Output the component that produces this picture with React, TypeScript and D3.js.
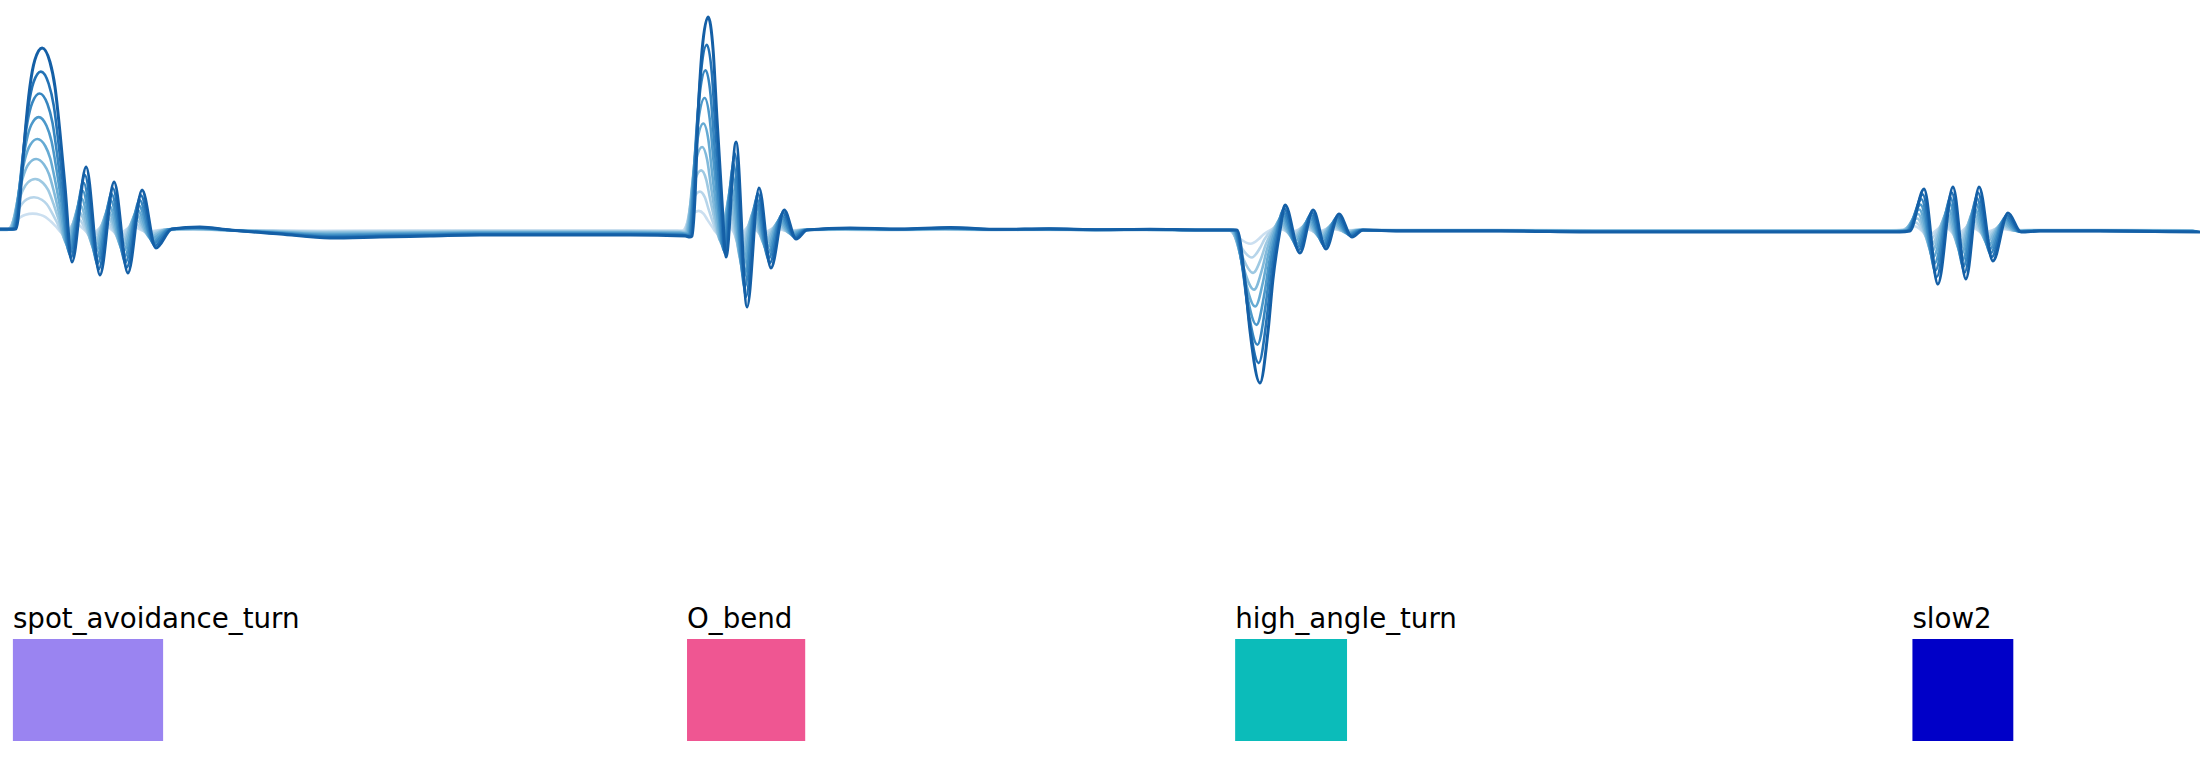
import React from 'react';
import * as d3 from 'd3';

// tail tip trace (frame, angle in degrees)
const tipFrames = [
  // spot_avoidance_turn
  0, 4.8, 5.1, 5.7, 7.0, 8.0, 9.5, 11.1, 13.4, 15.9, 17.5, 19.1, 20.7, 22.9, 27.4, 31.8, 36.3,
  40.7, 45.2, 49.6, 54.7, 63.6, 73.2, 89.1, 105.0, 120.9, 136.8, 152.7, 168.6, 184.5, 200.5,
  218.0, 219.5,
  // O_bend
  220.2, 221.1, 222.1, 223.4, 225.3, 226.9, 228.1, 229.7, 231.0, 234.2, 237.7, 241.5, 245.3,
  249.5, 253.3, 256.8, 270.5, 286.4, 302.3, 318.2, 334.1, 350.0, 365.9, 381.8, 391.4,
  // high_angle_turn
  393.6, 396.1, 397.7, 400.9, 403.5, 405.0, 407.3, 408.9, 413.6, 417.8, 421.9, 426.0, 430.2,
  433.7, 445.5, 477.3, 509.1, 540.9, 572.7, 604.5,
  // slow2
  607.7, 612.2, 616.6, 621.4, 625.5, 629.7, 634.1, 638.9, 643.1, 649.1, 668.2, 700,
];
const tipAngles = [
  // spot_avoidance_turn
  0.6, 0.6, 0.6, 6.3, 35.6, 60.6, 89.4, 106.3, 113.8, 105, 89.4, 60.6, 26.9, -20, 39.4, -28.1, 30,
  -26.9, 25, -11.3, 0.6, 1.9, 0, -2.5, -5, -4.4, -3.8, -3.1, -3.1, -3.1, -3.1,
  -3.8, -4.4,
  // O_bend
  -3.8, 18.8, 70.6, 112.5, 133.1, 112.5, 70.6, 18.8, -16.9, 55, -48.1, 26.3, -23.8,
  12.5, -5.6, 0, 1.3, 0.6, 1.5, 0.4, 0.8, 0.2, 0.5, 0, 0,
  // high_angle_turn
  0, -31.3, -62.5, -95.6, -62.5, -31.3, 0, 15.6, -14.4, 12.5, -11.9, 10, -4.4,
  0, -0.6, -0.6, -1.3, -1.3, -1.3, -1.3,
  // slow2
  -0.6, 25.6, -33.8, 26.9, -30.6, 26.9, -19.4, 10.6, -1.3, -0.6, -0.6, -1.3,
];

// tail segments: share of tip amplitude and lead in frames (head leads the tip)
const segmentScale = [0.09, 0.18, 0.28, 0.39, 0.5, 0.62, 0.75, 0.87, 1.0];
const segmentLead = [3.0, 2.6, 2.2, 1.9, 1.5, 1.1, 0.8, 0.4, 0];

// bouts
const boutLabels = ['spot_avoidance_turn', 'O_bend', 'high_angle_turn', 'slow2'];
const boutStart = [4.1, 218.6, 393.0, 608.5];
const boutEnd = [51.9, 256.2, 428.6, 640.6];
const boutColors = ['#9a84f1', '#ef5692', '#0bbcba', '#0000c8'];

const W = 2200;
const H = 770;

const App = () => {
  const x = d3.scaleLinear().domain([0, 700]).range([0, W]);
  const y = d3.scaleLinear().domain([0, 100]).range([230, 70]);

  const line = d3
    .line<[number, number]>()
    .x((d) => x(d[0]))
    .y((d) => y(d[1]))
    .curve(d3.curveMonotoneX);

  const color = d3
    .scaleLinear<number>()
    .domain([0, segmentScale.length - 1])
    .range([0.22, 0.82]);

  const paths = segmentScale.map((s, i) => {
    const pts = tipFrames.map((f, j) => [f - segmentLead[i], tipAngles[j] * s] as [number, number]);
    return line(pts) || '';
  });

  return (
    <svg
      width={W}
      height={H}
      style={{ position: 'absolute', left: 0, top: 0, background: '#fff' }}
      fontFamily="DejaVu Sans"
    >
      <g>
        {paths.map((p, i) => (
          <path
            key={i}
            d={p}
            fill="none"
            stroke={d3.interpolateBlues(color(i))}
            strokeWidth={i === paths.length - 1 ? 3 : 2.6}
            strokeLinejoin="round"
          />
        ))}
      </g>
      <g>
        {boutLabels.map((lab, i) => (
          <g key={lab}>
            <text x={x(boutStart[i])} y={628} fontSize={27.7} fill="#000">
              {lab}
            </text>
            <rect
              x={x(boutStart[i])}
              y={639}
              width={x(boutEnd[i]) - x(boutStart[i])}
              height={102}
              fill={boutColors[i]}
            />
          </g>
        ))}
      </g>
    </svg>
  );
};

export default App;
